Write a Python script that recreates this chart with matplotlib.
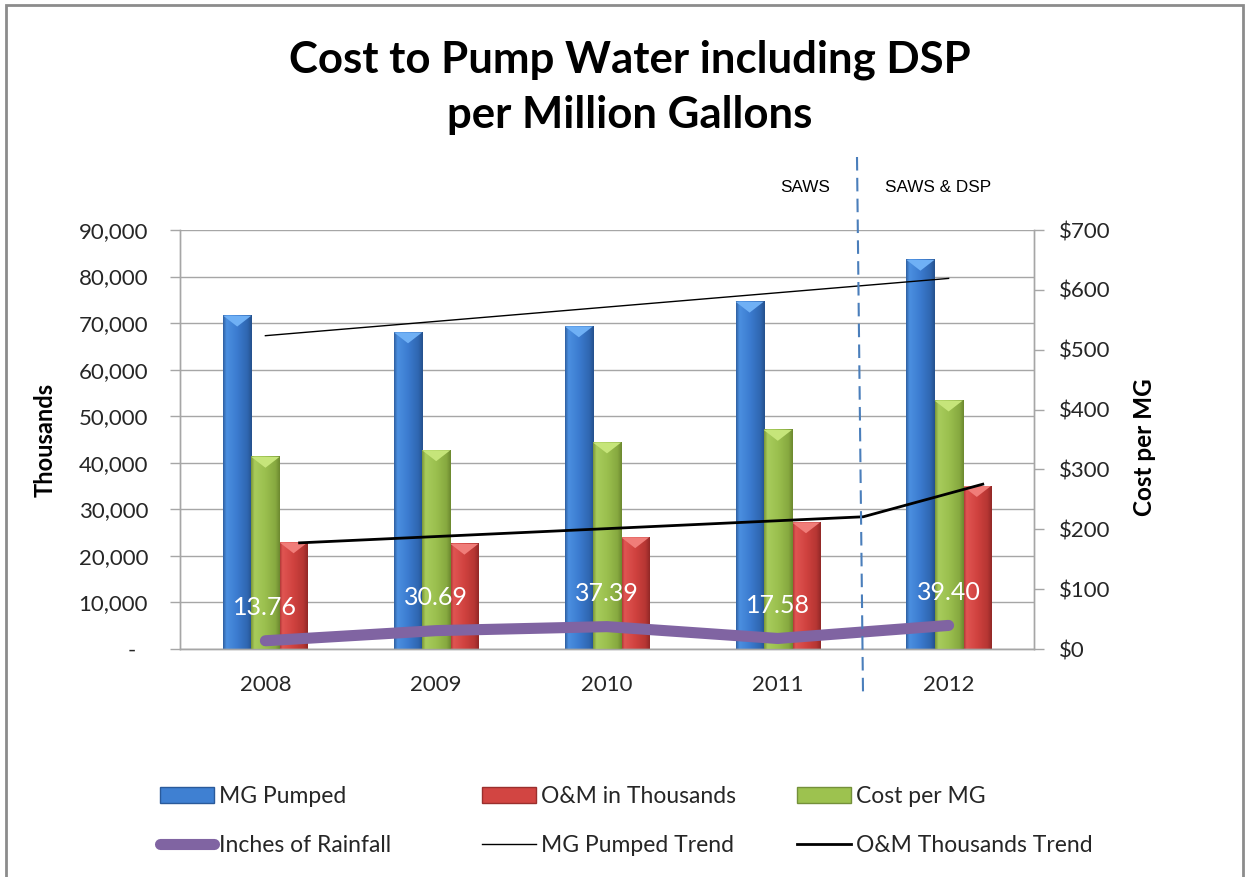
import numpy as np
import matplotlib
matplotlib.use("Agg")
import matplotlib.pyplot as plt
from matplotlib.colors import LinearSegmentedColormap
from matplotlib.patches import Polygon, Rectangle, Patch
from matplotlib.lines import Line2D
from matplotlib.ticker import FuncFormatter, MultipleLocator

plt.rcParams["font.family"] = ["Lato", "DejaVu Sans"]

# ---- data -------------------------------------------------------------
years = ["2008", "2009", "2010", "2011", "2012"]
mg_pumped = [71600, 68000, 69300, 74600, 83600]          # left axis
om_thousands = [22900, 22600, 24000, 27200, 35000]       # left axis
cost_per_mg = [321, 332, 345, 366, 415]                  # right axis ($)
rainfall = [13.76, 30.69, 37.39, 17.58, 39.40]           # right axis

mg_trend_x = [0, 4]
mg_trend = [67300, 79600]
om_trend_x = [0.2, 3.5, 4.2]
om_trend = [22800, 28400, 35400]

# ---- styling ----------------------------------------------------------
GRID = "#a6a6a6"
TXT = "#262626"
BAR_W = 0.165

blue_cmap = LinearSegmentedColormap.from_list(
    "b", [(0, "#2f5f9f"), (0.12, "#4b8fe0"), (0.5, "#3b7bcf"), (0.85, "#2f66b0"), (1, "#24508c")])
green_cmap = LinearSegmentedColormap.from_list(
    "g", [(0, "#7a9538"), (0.12, "#a8cc5c"), (0.5, "#9abf4e"), (0.85, "#87a940"), (1, "#6c882f")])
red_cmap = LinearSegmentedColormap.from_list(
    "r", [(0, "#9e2e2c"), (0.12, "#e05552"), (0.5, "#d0423f"), (0.85, "#b63633"), (1, "#912826")])


def shaded_bars(axis, xs, heights, cmap, bevel, span):
    """Bars with a horizontal shading gradient and a lighter chevron on top."""
    grad = np.linspace(0, 1, 128).reshape(1, -1)
    depth = 0.026 * span
    for xc, h in zip(xs, heights):
        x0, x1 = xc - BAR_W / 2, xc + BAR_W / 2
        axis.imshow(grad, cmap=cmap, extent=(x0, x1, 0, h), aspect="auto",
                    interpolation="bilinear", zorder=2)
        axis.add_patch(Polygon([(x0, h), (x1, h), (xc, h - depth)],
                               closed=True, facecolor=bevel, edgecolor="none", zorder=2.1))


fig = plt.figure(figsize=(12.5, 8.77), dpi=100)
ax = fig.add_axes([180 / 1250, 1 - 649 / 877, (1034 - 180) / 1250, (649 - 230) / 877])
ax2 = ax.twinx()

x = np.arange(len(years))

shaded_bars(ax, x - BAR_W, mg_pumped, blue_cmap, "#6fb0f5", 90000)
shaded_bars(ax, x + BAR_W, om_thousands, red_cmap, "#f07d79", 90000)
shaded_bars(ax2, x, cost_per_mg, green_cmap, "#c6e57a", 700)

# trend lines (left-axis units) drawn above every bar
ax2.plot(mg_trend_x, mg_trend, transform=ax.transData, color="black", lw=1.0, zorder=4)
ax2.plot(om_trend_x, om_trend, transform=ax.transData, color="black", lw=2.0, zorder=4)

# rainfall line with value labels
ax2.plot(x, rainfall, color="#8064a2", lw=8, solid_capstyle="round",
         solid_joinstyle="round", zorder=5)
for xi, r in zip(x, rainfall):
    ax2.annotate(f"{r:.2f}", (xi, r), xytext=(0, 24), textcoords="offset points",
                 ha="center", va="center", color="white", fontsize=18, zorder=6)

# axes, grid, ticks
ax.set_xlim(-0.5, len(years) - 0.5)
ax.set_ylim(0, 90000)
ax2.set_ylim(0, 700)
ax.set_axisbelow(True)
ax.yaxis.set_major_locator(MultipleLocator(10000))
ax2.yaxis.set_major_locator(MultipleLocator(100))
ax.grid(axis="y", color=GRID, lw=1)
ax.set_xticks(x)
ax.set_xticklabels(years)

ax.yaxis.set_major_formatter(FuncFormatter(lambda v, p: "-  " if v == 0 else f"{v:,.0f}"))
ax2.yaxis.set_major_formatter(FuncFormatter(lambda v, p: f"${v:,.0f}"))

for a in (ax, ax2):
    a.spines["top"].set_visible(False)
    for s in ("left", "right", "bottom"):
        a.spines[s].set_color(GRID)
        a.spines[s].set_linewidth(1)

ax.tick_params(axis="y", length=7, width=1, color=GRID, pad=16, labelsize=16, labelcolor=TXT)
ax.tick_params(axis="x", length=0, pad=19, labelsize=16, labelcolor=TXT)
ax2.tick_params(axis="y", length=7, width=1, color=GRID, pad=11, labelsize=16, labelcolor=TXT)

fig.text(45 / 1250, 1 - 440 / 877, "Thousands", rotation=90, ha="center", va="center",
         fontsize=17, fontweight="bold", color="black")
fig.text(1145 / 1250, 1 - 447 / 877, "Cost per MG", rotation=90, ha="center", va="center",
         fontsize=17.5, fontweight="bold", color="black")

# title
fig.text(630 / 1250, 1 - 60 / 877, "Cost to Pump Water including DSP", ha="center", va="center",
         fontsize=31.5, fontweight="bold", color="black")
fig.text(630 / 1250, 1 - 115 / 877, "per Million Gallons", ha="center", va="center",
         fontsize=31.5, fontweight="bold", color="black")

# period annotations and divider
fig.text(805 / 1250, 1 - 188 / 877, "SAWS", ha="center", va="center", fontsize=12.3,
         family="Liberation Sans", color="black")
fig.text(938 / 1250, 1 - 188 / 877, "SAWS & DSP", ha="center", va="center", fontsize=12.3,
         family="Liberation Sans", color="black")
fig.add_artist(Line2D([857 / 1250, 863 / 1250], [1 - 157 / 877, 1 - 692 / 877],
                      transform=fig.transFigure, color="#4a7ebb", lw=1.5,
                      ls=(0, (6.5, 3.5)), zorder=10))

# legend (three columns of two entries)
h_blue = Patch(facecolor="#3f80d2", edgecolor="#2a5a9a")
h_red = Patch(facecolor="#d24542", edgecolor="#9a2f2d")
h_green = Patch(facecolor="#9dc24f", edgecolor="#74903a")
h_rain = Line2D([0], [0], color="#8064a2", lw=8, solid_capstyle="round")
h_mgt = Line2D([0], [0], color="black", lw=1.0)
h_omt = Line2D([0], [0], color="black", lw=2.0)

legend_cols = [
    (160, [h_blue, h_rain], ["MG Pumped", "Inches of Rainfall"]),
    (482, [h_red, h_mgt], ["O&M in Thousands", "MG Pumped Trend"]),
    (797, [h_green, h_omt], ["Cost per MG", "O&M Thousands Trend"]),
]
for xpix, hs, ls_ in legend_cols:
    fig.legend(handles=hs, labels=ls_, loc="center left",
               bbox_to_anchor=(xpix / 1250, 1 - 821 / 877), frameon=False, fontsize=16.5,
               handlelength=2.35, handletextpad=0.22, labelspacing=1.25, borderpad=0,
               borderaxespad=0, labelcolor=TXT)

# outer frame
fig.add_artist(Rectangle((6 / 1250, -0.02), (1243 - 6) / 1250, 1 - 5 / 877 + 0.02,
                         transform=fig.transFigure, fill=False, edgecolor="#8c8c8c", lw=2))

fig.savefig("out.png", dpi=100, facecolor="white")
